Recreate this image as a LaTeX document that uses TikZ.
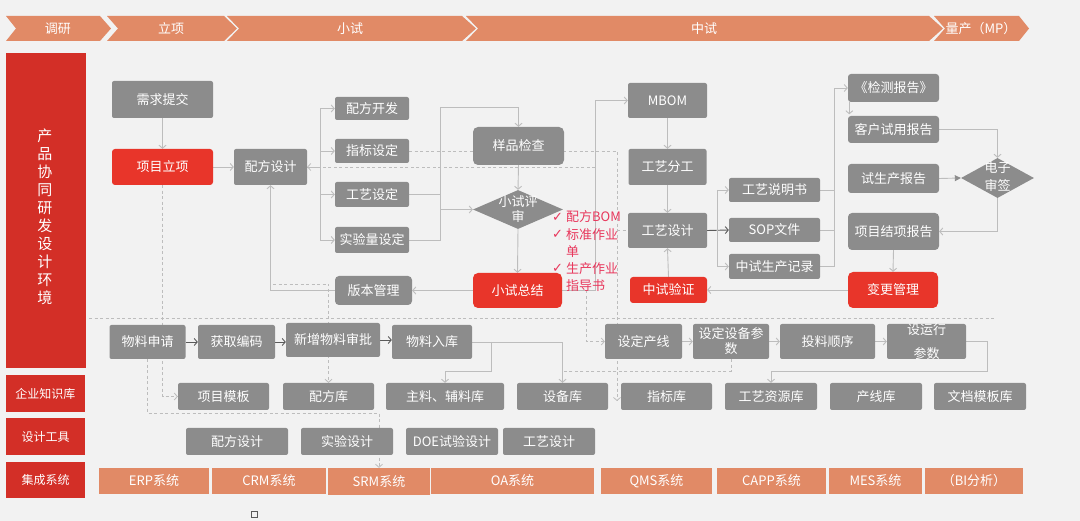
\documentclass[tikz,border=0pt]{standalone}
\usepackage{fontspec}
\setmainfont{Noto Sans CJK SC}
\newfontfamily\dejavu{DejaVu Sans}
\usetikzlibrary{arrows.meta,shapes.geometric,calc}
\definecolor{bgc}{HTML}{F2F2F2}
\definecolor{boxg}{HTML}{8C8C8C}
\definecolor{redb}{HTML}{E8352A}
\definecolor{redc}{HTML}{D32F27}
\definecolor{orng}{HTML}{E18A66}
\definecolor{lineg}{HTML}{BDBDBD}
\definecolor{darkl}{HTML}{5A5A5A}
\definecolor{pinkt}{HTML}{E8375C}
\pgfdeclarelayer{back}\pgfdeclarelayer{bg}
\pgfsetlayers{back,bg,main}
\tikzset{
 base/.style={inner sep=0pt, text=white, font=\fontsize{13}{15}\selectfont, align=center},
 gbox/.style={base, fill=boxg, rounded corners=2pt},
 rbox/.style={base, fill=redb, rounded corners=3pt},
 obox/.style={base, fill=orng},
 lcol/.style={base, fill=redc},
 dia/.style={diamond, fill=boxg, inner sep=0pt},
 wtext/.style={base},
 tip/.style={-{Straight Barb[length=3pt,width=7pt]}},
 conn/.style={draw=lineg, line width=0.9pt, tip},
 plain/.style={draw=lineg, line width=0.9pt},
 dsh/.style={draw=lineg, line width=0.8pt, dash pattern=on 3pt off 2.5pt},
 dconn/.style={dsh, tip},
 darr/.style={draw=darkl, line width=0.9pt, tip},
 chev/.style={fill=orng},
 chk/.style={text=pinkt, inner sep=0pt, font=\fontsize{13}{15}\selectfont, anchor=west},
}
\begin{document}
\begin{tikzpicture}[x=1pt,y=-1pt]
\begin{pgfonlayer}{back}
\fill[bgc] (0,0) rectangle (1080,521);
\end{pgfonlayer}
\useasboundingbox (0,0) rectangle (1080,521);

% header chevrons
\fill[chev] (6,16) -- (100,16) -- (111,28.5) -- (100,41) -- (6,41) -- (16,28.5) -- cycle;
\fill[chev] (107,16) -- (224,16) -- (237,28.5) -- (224,41) -- (107,41) -- (118,28.5) -- cycle;
\fill[chev] (227,16) -- (462,16) -- (476,28.5) -- (462,41) -- (227,41) -- (239,28.5) -- cycle;
\fill[chev] (466,16) -- (929,16) -- (943,28.5) -- (929,41) -- (466,41) -- (478,28.5) -- cycle;
\fill[chev] (934,16) -- (1019,16) -- (1029,28.5) -- (1019,41) -- (934,41) -- (945,28.5) -- cycle;
\node[wtext] (h1) at (58,28.5) {调研};
\node[wtext] (h2) at (171,28.5) {立项};
\node[wtext] (h3) at (350,28.5) {小试};
\node[wtext] (h4) at (704,28.5) {中试};
\node[wtext] (h5) at (981,28.5) {量产（MP）};

% left column
\node[lcol, minimum width=80pt, minimum height=315pt] (lc1) at (46,210.5) {};
\node[wtext, font=\fontsize{15}{18}\selectfont] (lc1t) at (45,217) {产\\品\\协\\同\\研\\发\\设\\计\\环\\境};
\node[lcol, minimum width=79pt, minimum height=37pt, font=\fontsize{12}{14}\selectfont] (lc2) at (45.5,393.5) {企业知识库};
\node[lcol, minimum width=79pt, minimum height=37pt, font=\fontsize{12}{14}\selectfont] (lc3) at (45.5,436.5) {设计工具};
\node[lcol, minimum width=79pt, minimum height=36pt, font=\fontsize{12}{14}\selectfont] (lc4) at (45.5,480) {集成系统};

% top area nodes
\node[gbox, minimum width=101pt, minimum height=37pt] (xq) at (162.5,99.5) {需求提交};
\node[rbox, minimum width=101pt, minimum height=36pt] (xmlx) at (162.5,167) {项目立项};
\node[gbox, minimum width=73pt, minimum height=36pt] (pfsj) at (270.5,167) {配方设计};
\node[gbox, minimum width=74pt, minimum height=23pt] (pfkf) at (372,108.5) {配方开发};
\node[gbox, minimum width=74pt, minimum height=24pt] (zbsd) at (372,151) {指标设定};
\node[gbox, minimum width=74pt, minimum height=25pt] (gysd) at (372,194.5) {工艺设定};
\node[gbox, minimum width=74pt, minimum height=26pt] (sylsd) at (372,240) {实验量设定};
\node[gbox, minimum width=77pt, minimum height=29pt, rounded corners=4pt] (bbgl) at (373.5,290.5) {版本管理};
\node[gbox, minimum width=91pt, minimum height=38pt, rounded corners=5pt] (ypjc) at (518.5,146) {样品检查};
\node[dia, minimum width=90pt, minimum height=39pt] (xsps) at (518,209.5) {};
\node[wtext] (xspst) at (518,209.5) {小试评\\审};
\node[rbox, minimum width=89pt, minimum height=35pt, rounded corners=5pt] (xszj) at (517.5,290.5) {小试总结};

\node[chk] (c1) at (552,217) {\dejavu ✓};
\node[chk] (t1) at (566,217) {配方BOM};
\node[chk] (c2) at (552,234.5) {\dejavu ✓};
\node[chk] (t2) at (566,234.5) {标准作业};
\node[chk] (t2b) at (566,252) {单};
\node[chk] (c3) at (552,268.5) {\dejavu ✓};
\node[chk] (t3) at (566,268.5) {生产作业};
\node[chk] (t3b) at (566,286) {指导书};

\node[gbox, minimum width=79pt, minimum height=35pt] (mbom) at (667.5,100.5) {MBOM};
\node[gbox, minimum width=78pt, minimum height=36pt] (gyfg) at (667.5,167) {工艺分工};
\node[gbox, minimum width=79pt, minimum height=35pt] (gysj) at (667.5,230.5) {工艺设计};
\node[rbox, minimum width=77pt, minimum height=26pt] (zsyz) at (668.5,290) {中试验证};
\node[gbox, minimum width=91pt, minimum height=24pt] (gysms) at (774.5,190) {工艺说明书};
\node[gbox, minimum width=91pt, minimum height=24pt] (sop) at (774.5,230) {SOP文件};
\node[gbox, minimum width=91pt, minimum height=25pt] (zsscjl) at (774.5,266.5) {中试生产记录};

\node[gbox, minimum width=91pt, minimum height=28pt, rounded corners=3pt] (jcbg) at (893.5,88) {《检测报告》};
\node[gbox, minimum width=91pt, minimum height=27pt, rounded corners=3pt] (khsy) at (893.5,129.5) {客户试用报告};
\node[gbox, minimum width=91pt, minimum height=29pt, rounded corners=3pt] (ssc) at (893.5,178.5) {试生产报告};
\node[gbox, minimum width=91pt, minimum height=37pt, rounded corners=4pt] (xmjx) at (893.5,231.5) {项目结项报告};
\node[rbox, minimum width=90pt, minimum height=36pt, rounded corners=5pt] (bggl) at (893,290) {变更管理};
\node[dia, minimum width=73pt, minimum height=40pt] (dzsq) at (997.5,178) {};
\node[wtext, font=\fontsize{13}{18}\selectfont] (dzsqt) at (997.5,177) {电子\\审签};

% process row
\node[gbox, minimum width=76pt, minimum height=34pt] (wlsq) at (147.5,342) {物料申请};
\node[gbox, minimum width=77pt, minimum height=34pt] (hqbm) at (236.5,342) {获取编码};
\node[gbox, minimum width=94pt, minimum height=34pt] (xzwl) at (333,340) {新增物料审批};
\node[gbox, minimum width=80pt, minimum height=34pt] (wlrk) at (432,342) {物料入库};
\node[gbox, minimum width=77pt, minimum height=35pt] (sdcx) at (643.5,341.5) {设定产线};
\node[gbox, minimum width=76pt, minimum height=35pt] (sdsb) at (731,341.5) {设定设备参\\数};
\node[gbox, minimum width=95pt, minimum height=35pt] (tlsx) at (827.5,341.5) {投料顺序};
\node[gbox, minimum width=79pt, minimum height=35pt] (syxcs) at (926.5,341.5) {};
\node[wtext] (syxcst) at (926.5,341.5) {设运行\\[9pt]参数};

% knowledge row
\node[gbox, minimum width=91pt, minimum height=27pt] (xmmb) at (223.5,396.5) {项目模板};
\node[gbox, minimum width=91pt, minimum height=27pt] (pfk) at (328.5,396.5) {配方库};
\node[gbox, minimum width=118pt, minimum height=27pt] (zlfl) at (445,396.5) {主料、辅料库};
\node[gbox, minimum width=91pt, minimum height=27pt] (sbk) at (562.5,396.5) {设备库};
\node[gbox, minimum width=91pt, minimum height=27pt] (zbk) at (666.5,396.5) {指标库};
\node[gbox, minimum width=92pt, minimum height=27pt] (gyzyk) at (771,396.5) {工艺资源库};
\node[gbox, minimum width=92pt, minimum height=27pt] (cxk) at (876,396.5) {产线库};
\node[gbox, minimum width=92pt, minimum height=27pt] (wdmb) at (980,396.5) {文档模板库};

% tools row
\node[gbox, minimum width=102pt, minimum height=27pt] (tl1) at (237,441.5) {配方设计};
\node[gbox, minimum width=92pt, minimum height=27pt] (tl2) at (347,441.5) {实验设计};
\node[gbox, minimum width=92pt, minimum height=27pt] (tl3) at (452,441.5) {DOE试验设计};
\node[gbox, minimum width=92pt, minimum height=27pt] (tl4) at (549,441.5) {工艺设计};

% systems row
\node[obox, minimum width=110pt, minimum height=26pt] (erp) at (154,481) {ERP系统};
\node[obox, minimum width=114pt, minimum height=26pt] (crm) at (269,481) {CRM系统};
\node[obox, minimum width=102pt, minimum height=27pt] (srm) at (379,481.5) {SRM系统};
\node[obox, minimum width=163pt, minimum height=26pt] (oa) at (512.5,481) {OA系统};
\node[obox, minimum width=111pt, minimum height=26pt] (qms) at (656.5,481) {QMS系统};
\node[obox, minimum width=109pt, minimum height=26pt] (capp) at (771.5,481) {CAPP系统};
\node[obox, minimum width=93pt, minimum height=26pt] (mes) at (875.5,481) {MES系统};
\node[obox, minimum width=98pt, minimum height=26pt] (bi) at (974,481) {（BI分析）};

\draw[darkl, line width=0.8pt] (251,511) rectangle (257,517);

\begin{pgfonlayer}{bg}
\draw[dsh] (89,318) -- (994,318);
% top-left flow
\draw[conn] (xq.south) -- (xmlx.north);
\draw[conn] (xmlx.east) -- (pfsj.west);
\coordinate (b1) at (320,167);
\draw[plain] (pfsj.east) -- (b1);
\draw[plain] (b1 |- pfkf.west) -- (b1 |- sylsd.west);
\draw[conn] (b1 |- pfkf.west) -- (pfkf.west);
\draw[conn] (b1 |- zbsd.west) -- (zbsd.west);
\draw[conn] (b1 |- gysd.west) -- (gysd.west);
\draw[conn] (b1 |- sylsd.west) -- (sylsd.west);
\coordinate (b2) at (440,209.5);
\coordinate (b3) at (440,107);
\draw[plain] (gysd.east) -- (b2 |- gysd.east);
\draw[plain] (sylsd.east) -- (b2 |- sylsd.east) -- (b3);
\draw[conn] (b3) -| (ypjc.north);
\draw[conn] (b2) -- (xsps.west);
\draw[conn] (ypjc.south) -- (xsps.north);
\draw[conn] (xsps.south) -- (xszj.north);
\draw[conn] (xszj.west) -- (bbgl.east);
\draw[conn] (bbgl.west) -| (pfsj.south);
\coordinate (d1) at (273,284);
\draw[dconn] (d1) -| (pfk.north);
\coordinate (m1) at (595,290.5);
\coordinate (m2) at (595,100.5);
\draw[conn] (xszj.east) -- (m1) -- (m2) -- (mbom.west);
\coordinate (m3) at (595,167);
\draw[dconn] (m3) -- (pfsj.east);
\coordinate (z1) at (617,151);
\coordinate (z2) at (617,401);
\draw[dconn] (zbsd.east) -- (z1) -- (z2);
\coordinate (z3) at (617,230.5);
\draw[dsh] (z3) -- (gysj.west);
\coordinate (s1) at (586,290.5);
\draw[dconn] (s1) |- (sdcx.west);
% middle
\draw[conn] (mbom.south) -- (gyfg.north);
\draw[conn] (gyfg.south) -- (gysj.north);
\draw[conn] (zsyz.north) -- (gysj.south);
\draw[darr] (gysj.east) -- (sop.west);
\coordinate (g1) at (717,190);
\coordinate (g2) at (717,266.5);
\draw[plain] (g1) -- (g2);
\draw[conn] (g1) -- (gysms.west);
\draw[conn] (g2) -- (zsscjl.west);
\coordinate (r1) at (834,190);
\coordinate (r2) at (834,230);
\coordinate (r3) at (834,266.5);
\coordinate (r4) at (834,88);
\draw[plain] (gysms.east) -- (r1);
\draw[plain] (sop.east) -- (r2);
\draw[plain] (zsscjl.east) -- (r3) -- (r4);
\draw[conn] (r4) -- (jcbg.west);
\draw[conn] (bggl.west) -- (zsyz.east);
% right
\draw[conn] ($(jcbg.south west)+(1.5,0)$) -- ($(khsy.north west)+(1.5,-1.5)$);
\draw[conn] (khsy.east) -| (dzsq.north);
\draw[draw=lineg, line width=0.9pt, -{Triangle[length=6pt,width=6pt,color=boxg]}] (ssc.east) -- (dzsq.west);
\draw[conn] (dzsq.south) |- (xmjx.east);
\draw[conn] (xmjx.south) -- (bggl.north);
% bottom process
\draw[darr] (wlsq.east) -- (hqbm.west);
\draw[darr] (hqbm.east) -- (hqbm.east -| xzwl.west);
\draw[darr] (xzwl.east) -- (xzwl.east -| wlrk.west);
\draw[conn] (wlrk.east) -| (sbk.north);
\coordinate (w1) at (491,342);
\coordinate (w2) at (491,371);
\draw[conn] (w1) -- (w2) -| (zlfl.north);
\coordinate (w3) at (562.5,371);
\draw[dsh] (sdsb.south) |- (w3);
\coordinate (p1) at (987,341.5);
\coordinate (p2) at (987,371);
\draw[conn] (syxcs.east) -- (p1) -- (p2) -| (gyzyk.north);
\draw[conn] (sdcx.east) -- (sdsb.west);
\draw[conn] (sdsb.east) -- (tlsx.west);
\draw[conn] (tlsx.east) -- (syxcs.west);
\draw[dconn] (xmlx.south) |- (xmmb.west);
\coordinate (q1) at (147.5,413);
\draw[dconn] (wlsq.south) -- (q1) -| (srm.north);
\end{pgfonlayer}
\end{tikzpicture}
\end{document}
